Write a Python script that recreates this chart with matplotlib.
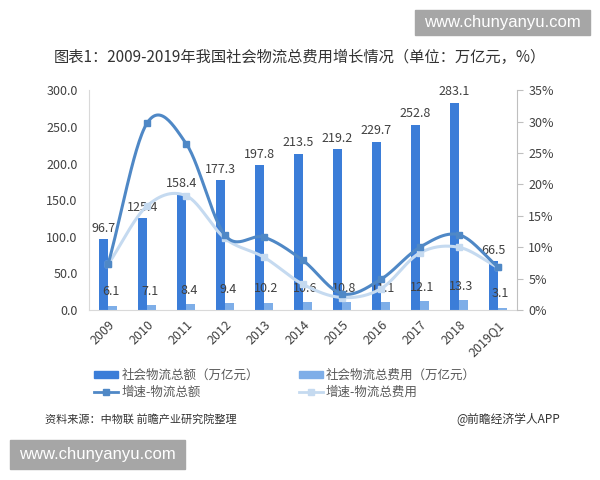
import numpy as np
import matplotlib
matplotlib.use("Agg")
import matplotlib.pyplot as plt
from matplotlib.lines import Line2D
from matplotlib.patches import Patch, Rectangle

plt.rcParams['font.family'] = ['Noto Sans CJK SC', 'DejaVu Sans']

categories = ['2009', '2010', '2011', '2012', '2013', '2014', '2015', '2016', '2017', '2018', '2019Q1']
total_value = [96.7, 125.4, 158.4, 177.3, 197.8, 213.5, 219.2, 229.7, 252.8, 283.1, 66.5]
total_cost = [6.1, 7.1, 8.4, 9.4, 10.2, 10.6, 10.8, 11.1, 12.1, 13.3, 3.1]
growth_value = [7.4, 29.8, 26.5, 11.9, 11.6, 7.9, 2.6, 4.9, 10.0, 12.0, 6.9]
growth_cost = [7.3, 16.6, 18.2, 11.4, 8.4, 4.1, 2.0, 3.4, 9.1, 10.0, 6.8]

C_DARK = '#3B7DD8'
C_LIGHT = '#7EAEE8'
C_LINE1 = '#4F88C6'
C_LINE2 = '#C5DAF0'
TXT = '#404040'


def smooth(xs, ys, n=30):
    xs = np.asarray(xs, float)
    ys = np.asarray(ys, float)
    px = np.concatenate([[2 * xs[0] - xs[1]], xs, [2 * xs[-1] - xs[-2]]])
    py = np.concatenate([[2 * ys[0] - ys[1]], ys, [2 * ys[-1] - ys[-2]]])
    ox, oy = [], []
    for i in range(1, len(px) - 2):
        p0, p1, p2, p3 = (np.array([px[j], py[j]]) for j in (i - 1, i, i + 1, i + 2))
        b1 = p1 + (p2 - p0) / 6
        b2 = p2 - (p3 - p1) / 6
        t = np.linspace(0, 1, n)[:, None]
        pts = (1 - t) ** 3 * p1 + 3 * (1 - t) ** 2 * t * b1 + 3 * (1 - t) * t ** 2 * b2 + t ** 3 * p2
        ox.extend(pts[:, 0]); oy.extend(pts[:, 1])
    return np.array(ox), np.array(oy)


fig = plt.figure(figsize=(6, 4.8), dpi=100)
ax = fig.add_axes([0.148, 0.354, 0.714, 0.458])
x = np.arange(len(categories))
w = 0.23
ax.bar(x - w / 2, total_value, w, color=C_DARK, zorder=2)
ax.bar(x + w / 2, total_cost, w, color=C_LIGHT, zorder=2)
for xi, v in zip(x, total_value):
    ax.text(xi - w / 2, v + 6, f'{v:.1f}', ha='center', va='bottom', fontsize=9, color=TXT, zorder=5)
for xi, v in zip(x, total_cost):
    ax.text(xi + w / 2 - 0.05, v + 10, f'{v:.1f}', ha='center', va='bottom', fontsize=9, color=TXT, zorder=5)

ax.set_xlim(-0.5, len(categories) - 0.5)
ax.set_ylim(0, 300)
ax.set_yticks(np.arange(0, 301, 50))
ax.set_yticklabels([f'{v:.1f}' for v in np.arange(0, 301, 50)], fontsize=9, color=TXT)
ax.set_xticks(x)
ax.set_xticklabels(categories, rotation=45, ha='right', rotation_mode='anchor', fontsize=9, color=TXT)
ax.tick_params(axis='x', length=0, pad=6)
ax.tick_params(axis='y', length=0, pad=8)
for s in ['top', 'right']:
    ax.spines[s].set_visible(False)
ax.spines['left'].set_color('#D9D9D9')
ax.spines['bottom'].set_color('#D9D9D9')

ax2 = ax.twinx()
ax2.set_ylim(0, 35)
ax2.set_yticks(np.arange(0, 36, 5))
ax2.set_yticklabels([f'{v}%' for v in range(0, 36, 5)], fontsize=9, color=TXT)
ax2.tick_params(axis='y', length=4, color='#BFBFBF', pad=4)
for s in ['top', 'left', 'bottom']:
    ax2.spines[s].set_visible(False)
ax2.spines['right'].set_color('#BFBFBF')

sx, sy = smooth(x, growth_cost)
ax2.plot(sx, sy, color=C_LINE2, lw=2.2, zorder=3)
ax2.plot(x, growth_cost, 's', color=C_LINE2, ms=5, zorder=3)
sx, sy = smooth(x, growth_value)
ax2.plot(sx, sy, color=C_LINE1, lw=2.2, zorder=4)
ax2.plot(x, growth_value, 's', color=C_LINE1, ms=5, zorder=4)

fig.text(0.5, 0.881, '图表1：2009-2019年我国社会物流总费用增长情况（单位：万亿元，%）',
         ha='center', va='center', fontsize=11, color='#333333')

handles = [Patch(color=C_DARK), Patch(color=C_LIGHT),
           Line2D([], [], color=C_LINE1, lw=2, marker='s', ms=4),
           Line2D([], [], color=C_LINE2, lw=2, marker='s', ms=4)]
labels = ['社会物流总额（万亿元）', '社会物流总费用（万亿元）', '增速-物流总额', '增速-物流总费用']
order = [0, 2, 1, 3]
fig.legend([handles[i] for i in order], [labels[i] for i in order], ncol=2,
           loc='center left', bbox_to_anchor=(0.147, 0.2), frameon=False,
           fontsize=9, labelcolor='#595959', handlelength=1.9, handletextpad=0.25,
           columnspacing=3.2, labelspacing=0.35, handleheight=0.5, borderpad=0)

fig.text(0.075, 0.127, '资料来源：中物联 前瞻产业研究院整理', fontsize=8, style='italic',
         color='#333333', ha='left', va='center')
fig.text(0.933, 0.127, '@前瞻经济学人APP', fontsize=8.5, color='#333333', ha='right', va='center')

for (x0, y0, x1, y1) in [(415, 10, 590, 35), (10, 440, 185, 469)]:
    fig.patches.append(Rectangle((x0 / 600, 1 - y1 / 480), (x1 - x0) / 600, (y1 - y0) / 480,
                                 transform=fig.transFigure, color='#A6A6A6', zorder=10))
    fig.text((x0 + x1) / 1200, 1 - (y0 + y1) / 960, 'www.chunyanyu.com', color='white',
             fontsize=12, ha='center', va='center', zorder=11, family=['Liberation Sans'])

fig.savefig('out.png', dpi=100)
